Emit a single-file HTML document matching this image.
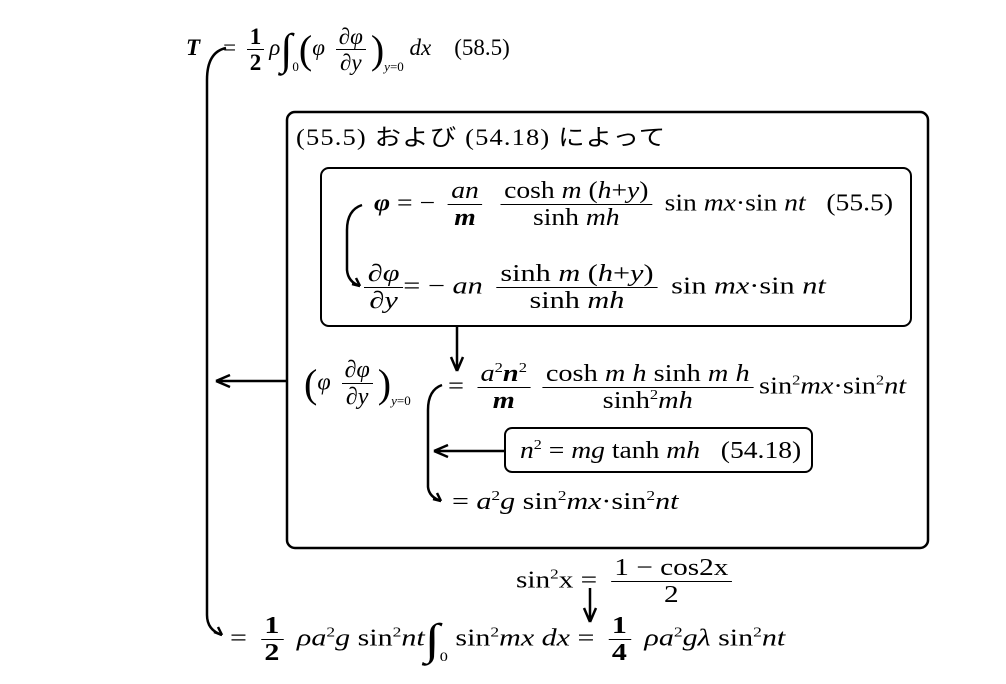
<!DOCTYPE html>
<html><head><meta charset="utf-8"><style>
html,body{margin:0;padding:0;background:#fff;width:1006px;height:684px;overflow:hidden;position:relative}
.l{position:absolute;height:60px;line-height:60px;white-space:nowrap;font-family:"Liberation Serif","Noto Serif CJK SC",serif;font-size:24px;color:#000;transform-origin:0 50%}
.l>span.w{display:inline-block;vertical-align:middle;line-height:1.2}
i{font-style:italic}
b{font-weight:bold}
.f{display:inline-flex;flex-direction:column;align-items:center;margin:0 5px;line-height:1.1;vertical-align:middle}
.f>span:first-child,.f>b:first-child,.f>i:first-child{border-bottom:1.5px solid #000;padding:0 3px}
.s{font-size:13px;position:relative;top:16px}
.big{font-size:40px;line-height:1;vertical-align:middle;font-weight:100}
.int{font-size:44px;line-height:1;vertical-align:middle}
sup{font-size:14px}
.jp{font-family:"Liberation Serif","Noto Sans CJK JP",sans-serif;letter-spacing:1px}
</style></head><body>
<svg width="1006" height="684" style="position:absolute;left:0;top:0" fill="none" stroke="#000" stroke-width="2.5">
<path d="M226,48 Q207,52 207,80 L207,615 Q207,630 222,635"/>
<path d="M222,635 l-8,-3 M222,635 l-4,-8" />
<rect x="287" y="112" width="641" height="436" rx="8"/>
<rect x="321" y="168" width="590" height="158" rx="8" stroke-width="2"/>
<path d="M362,205 Q347,210 347,230 L347,270 Q348,282 360,286"/>
<path d="M360,286 l-8,-2 M360,286 l-4,-8"/>
<path d="M457,326 L457,371 M457,371 l-6,-14 M457,371 l6,-14"/>
<path d="M287,381 L216,381 M216,381 l14,-6 M216,381 l14,6"/>
<path d="M442,385 Q428,390 428,410 L428,487 Q429,497 441,501"/>
<path d="M441,501 l-8,-2 M441,501 l-4,-8"/>
<rect x="505" y="428" width="307" height="44" rx="7" stroke-width="2"/>
<path d="M505,451 L434,451 M434,451 l14,-6 M434,451 l14,6"/>
<path d="M590,588 L590,622 M590,622 l-6,-14 M590,622 l6,-14"/>
</svg>

<div class="l" style="left:186px;top:18px;font-size:23px"><span class="w"><b><i>T</i></b>&nbsp;&nbsp;&nbsp;&nbsp;=&nbsp;<span class="f"><b>1</b><b>2</b></span><i>ρ</i><span class="int">∫</span><span class="s">0</span><span class="big">(</span><i>φ</i>&nbsp;<span class="f"><span>∂<i>φ</i></span><span>∂<i>y</i></span></span><span class="big">)</span><span class="s"><i>y</i>=0</span>&nbsp;<i>dx</i>&nbsp;&nbsp;&nbsp;&nbsp;(58.5)</span></div>

<div class="l jp" style="left:296px;top:106px;font-size:23px;transform:scaleX(1.15)"><span class="w">(55.5) および (54.18) によって</span></div>

<div class="l" style="left:374px;top:173px;transform:scaleX(1.15)"><span class="w"><b><i>φ</i></b>&nbsp;=&nbsp;−&nbsp;<span class="f"><i>an</i><b><i>m</i></b></span>&nbsp;<span class="f"><span>cosh&nbsp;<i>m</i>&nbsp;(<i>h</i>+<i>y</i>)</span><span>sinh&nbsp;<i>mh</i></span></span>&nbsp;sin&nbsp;<i>mx</i>·sin&nbsp;<i>nt</i>&nbsp;&nbsp;&nbsp;(55.5)</span></div>

<div class="l" style="left:364px;top:256px;transform:scaleX(1.26)"><span class="w"><span class="f" style="margin:0"><span>∂<i>φ</i></span><span>∂<i>y</i></span></span>=&nbsp;−&nbsp;<i>an</i>&nbsp;<span class="f"><span>sinh&nbsp;<i>m</i>&nbsp;(<i>h</i>+<i>y</i>)</span><span>sinh&nbsp;<i>mh</i></span></span>&nbsp;sin&nbsp;<i>mx</i>·sin&nbsp;<i>nt</i></span></div>

<div class="l" style="left:304px;top:352px"><span class="w"><span class="big">(</span><i>φ</i>&nbsp;<span class="f"><span>∂<i>φ</i></span><span>∂<i>y</i></span></span><span class="big">)</span><span class="s"><i>y</i>=0</span></span></div>

<div class="l" style="left:448px;top:356px;transform:scaleX(1.18)"><span class="w">=&nbsp;<span class="f"><span><i>a</i><sup>2</sup><b><i>n</i></b><sup>2</sup></span><b><i>m</i></b></span><span class="f"><span>cosh&nbsp;<i>m&nbsp;h</i>&nbsp;sinh&nbsp;<i>m&nbsp;h</i></span><span>sinh<sup>2</sup><i>mh</i></span></span>sin<sup>2</sup><i>mx</i>·sin<sup>2</sup><i>nt</i></span></div>

<div class="l" style="left:520px;top:420px;transform:scaleX(1.15)"><span class="w"><i>n</i><sup>2</sup>&nbsp;=&nbsp;<i>mg</i>&nbsp;tanh&nbsp;<i>mh</i>&nbsp;&nbsp;&nbsp;(54.18)</span></div>

<div class="l" style="left:452px;top:471px;transform:scaleX(1.25)"><span class="w">=&nbsp;<i>a</i><sup>2</sup><i>g</i>&nbsp;sin<sup>2</sup><i>mx</i>·sin<sup>2</sup><i>nt</i></span></div>

<div class="l" style="left:516px;top:550px;transform:scaleX(1.22)"><span class="w">sin<sup>2</sup>x&nbsp;=&nbsp;<span class="f"><span>1&nbsp;−&nbsp;cos2x</span><span>2</span></span></span></div>

<div class="l" style="left:230px;top:608px;transform:scaleX(1.25)"><span class="w">=&nbsp;<span class="f"><b>1</b><b>2</b></span>&nbsp;<i>ρa</i><sup>2</sup><i>g</i>&nbsp;sin<sup>2</sup><i>nt</i><span class="int">∫</span><span class="s">0</span>&nbsp;sin<sup>2</sup><i>mx</i>&nbsp;<i>dx</i>&nbsp;=&nbsp;<span class="f"><b>1</b><b>4</b></span>&nbsp;<i>ρa</i><sup>2</sup><i>gλ</i>&nbsp;sin<sup>2</sup><i>nt</i></span></div>
</body></html>
